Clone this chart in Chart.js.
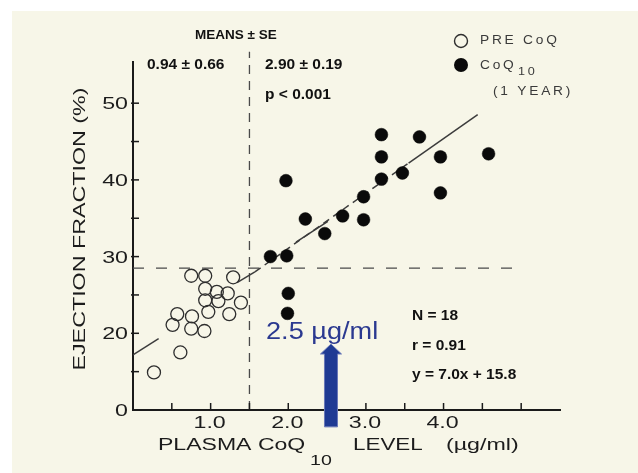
<!DOCTYPE html>
<html><head><meta charset="utf-8">
<script src="https://cdn.jsdelivr.net/npm/chart.js@4/dist/chart.umd.min.js"></script>
<style>html,body{margin:0;padding:0;background:#fff;}canvas{display:block}</style>
</head><body>
<canvas id="c" width="638" height="473" style="width:638px;height:473px"></canvas>
<script>
// ---- data ----
const preX = [0.75, 0.93, 1.29, 0.93, 1.08, 1.22, 0.93, 1.10, 1.39, 0.97, 0.57, 0.76, 1.24, 0.51, 0.75, 0.92, 0.61, 0.27];
const preY = [27.5, 27.5, 27.3, 25.8, 25.4, 25.2, 24.3, 24.2, 24.0, 22.8, 22.5, 22.2, 22.5, 21.1, 20.6, 20.3, 17.5, 14.9];
const coqX = [1.97, 2.22, 2.70, 2.97, 2.97, 2.47, 1.77, 1.98, 2.00, 1.99, 3.20, 3.20, 3.20, 3.47, 3.69, 3.96, 3.96, 4.58];
const coqY = [39.9, 34.9, 35.3, 37.8, 34.8, 33.0, 30.0, 30.1, 25.2, 22.6, 45.9, 43.0, 40.1, 40.9, 45.6, 43.0, 38.3, 43.4];
// regression line pieces [x1, y1, x2, y2]
const fitSolidSegments = [[0, 17.2, 0.33, 19.3], [1.34, 26.6, 1.57, 28.0], [2.10, 31.9, 2.51, 34.6], [3.55, 42.2, 4.44, 48.5]];
const fitDashedSegments = [[1.57, 28.0, 3.55, 42.2]];
// dashed reference lines
const refHLine = [[0, 28.5], [5.0, 28.5]];
const refVLine = [[1.5, 10], [1.5, 56.7]];
// axes
const xTickValues = [1, 2, 3, 4];
const xTickLabels = ['1.0', '2.0', '3.0', '4.0'];
const yTickValues = [10, 20, 30, 40, 50];
const yTickLabels = ['0', '20', '30', '40', '50'];
const xRange = [0, 5.5];
const yRange = [10, 55.37];
// arrow annotation
const arrowX = 2.55;
const arrowYRange = [7.8, 17.3, 18.6]; // bottom, head base, tip

const toPts = (xs, ys) => xs.map((x, i) => ({x: x, y: ys[i]}));
const segDs = (seg, dash) => ({
  data: [{x: seg[0], y: seg[1]}, {x: seg[2], y: seg[3]}],
  showLine: true, borderColor: '#3c3c3c', borderWidth: 1.5, pointRadius: 0,
  borderDash: dash || [], fill: false
});

const LIB = '"Liberation Sans", Arial, sans-serif';

const datasets = [
  {label: 'PRE CoQ', data: toPts(preX, preY), pointRadius: 6.5, borderWidth: 1.3,
   borderColor: '#2e2e2e', backgroundColor: 'rgba(0,0,0,0)', pointHoverRadius: 6.5},
  {label: 'CoQ10 (1 YEAR)', data: toPts(coqX, coqY), pointRadius: 6.4, borderWidth: 0.5,
   borderColor: '#0a0a0a', backgroundColor: '#0a0a0a', pointHoverRadius: 6.4},
];
fitSolidSegments.forEach(s => datasets.push(segDs(s)));
fitDashedSegments.forEach(s => datasets.push(segDs(s, [7, 5])));
datasets.push({data: refHLine.map(p => ({x: p[0], y: p[1]})), showLine: true, borderColor: '#4a4a4a',
  borderWidth: 1.3, pointRadius: 0, borderDash: [11, 12]});
datasets.push({data: refVLine.map(p => ({x: p[0], y: p[1]})), showLine: true, borderColor: '#4a4a4a',
  borderWidth: 1.3, pointRadius: 0, borderDash: [9, 7], clip: false});

// text helper: optional horizontal stretch (extended typeface look) and letter spacing
function stxt(ctx, s, x, y, font, color, sx, align, spacing, baseline) {
  ctx.save();
  ctx.translate(x, y);
  ctx.scale(sx || 1, 1);
  ctx.font = font;
  ctx.letterSpacing = (spacing || 0) + 'px';
  ctx.textAlign = align || 'left';
  ctx.textBaseline = baseline || 'middle';
  ctx.fillStyle = color;
  ctx.fillText(s, 0, 0);
  ctx.restore();
}

const bgPlugin = {
  id: 'bg',
  beforeDraw(chart) {
    const c = chart.ctx;
    c.save();
    c.fillStyle = '#ffffff';
    c.fillRect(0, 0, chart.width, chart.height);
    c.fillStyle = '#f7f6e8';
    c.fillRect(12, 11, chart.width - 12, chart.height - 11);
    c.restore();
  }
};

const decoPlugin = {
  id: 'deco',
  afterDraw(chart) {
    const c = chart.ctx;
    const xs = chart.scales.x, ys = chart.scales.y;
    const axisCol = '#1c1c1c';
    // inward tick marks
    c.save();
    c.strokeStyle = '#1a1a1a';
    c.lineWidth = 1.5;
    xs.ticks.forEach(t => {
      if (t.value <= xRange[0] + 1e-6 || t.value >= xRange[1] - 1e-6) return;
      const px = xs.getPixelForValue(t.value);
      c.beginPath(); c.moveTo(px, ys.bottom + 1); c.lineTo(px, ys.bottom - 7); c.stroke();
    });
    ys.ticks.forEach(t => {
      if (t.value <= yRange[0] + 1e-6 || t.value >= 55 - 1e-6) return;
      const py = ys.getPixelForValue(t.value);
      c.beginPath(); c.moveTo(xs.left - 2, py); c.lineTo(xs.left + 6, py); c.stroke();
    });
    c.restore();

    // tick labels (extended typeface look)
    const tkf = '16px ' + LIB;
    xTickValues.forEach((v, i) => {
      stxt(c, xTickLabels[i], xs.getPixelForValue(v) - 1, 424, tkf, axisCol, 1.45, 'center');
    });
    yTickValues.forEach((v, i) => {
      stxt(c, yTickLabels[i], 128, ys.getPixelForValue(v) + 1.5, tkf, axisCol, 1.45, 'right');
    });

    // axis titles
    const tf = '16px ' + LIB;
    stxt(c, 'PLASMA CoQ', 158, 446, tf, axisCol, 1.44);
    stxt(c, '10', 310, 461, '14px ' + LIB, axisCol, 1.4);
    stxt(c, 'LEVEL', 353, 446, tf, axisCol, 1.4);
    stxt(c, '(\u00b5g/ml)', 446, 446, tf, axisCol, 1.45);
    c.save();
    c.translate(80, 229);
    c.rotate(-Math.PI / 2);
    stxt(c, 'EJECTION FRACTION (%)', 0, 0, '16.5px ' + LIB, axisCol, 1.41, 'center');
    c.restore();

    // statistics annotations
    const bf = 'bold 15.5px ' + LIB;
    stxt(c, 'MEANS \u00b1 SE', 195, 35, 'bold 13.5px ' + LIB, '#111', 1);
    stxt(c, '0.94 \u00b1 0.66', 147, 65, bf, '#111', 1);
    stxt(c, '2.90 \u00b1 0.19', 265, 65, bf, '#111', 1);
    stxt(c, 'p < 0.001', 265, 95, bf, '#111', 1);
    stxt(c, 'N = 18', 412, 316, bf, '#111', 1);
    stxt(c, 'r = 0.91', 412, 346, bf, '#111', 1);
    stxt(c, 'y = 7.0x + 15.8', 412, 375, bf, '#111', 1);

    // legend
    c.save();
    c.strokeStyle = '#2e2e2e'; c.lineWidth = 1.4;
    c.beginPath(); c.arc(461, 41, 6.5, 0, Math.PI * 2); c.stroke();
    c.fillStyle = '#0a0a0a';
    c.beginPath(); c.arc(461, 65, 7, 0, Math.PI * 2); c.fill();
    c.restore();
    const lf = '12.5px ' + LIB;
    const lc = '#3a3a3a';
    stxt(c, 'PRE CoQ', 480, 41, lf, lc, 1.1, 'left', 2.5);
    stxt(c, 'CoQ', 480, 66, lf, lc, 1.1, 'left', 2.5);
    stxt(c, '10', 518, 72, '11.5px ' + LIB, lc, 1.1, 'left', 2.5);
    stxt(c, '(1 YEAR)', 493, 92, lf, lc, 1.1, 'left', 2.5);

    // arrow
    const ax = xs.getPixelForValue(arrowX);
    const yb = ys.getPixelForValue(arrowYRange[0]);
    const yh = ys.getPixelForValue(arrowYRange[1]);
    const yt = ys.getPixelForValue(arrowYRange[2]);
    c.save();
    c.beginPath();
    c.moveTo(ax - 6.5, yb); c.lineTo(ax - 6.5, yh); c.lineTo(ax - 10.5, yh);
    c.lineTo(ax, yt); c.lineTo(ax + 10.5, yh); c.lineTo(ax + 6.5, yh); c.lineTo(ax + 6.5, yb);
    c.closePath();
    c.fillStyle = '#1f3a93'; c.fill();
    c.strokeStyle = '#6878b8'; c.lineWidth = 1; c.stroke();
    c.restore();
    stxt(c, '2.5 \u00b5g/ml', 266, 339, '23px ' + LIB, '#2b3990', 1.18, 'left', 0, 'alphabetic');
  }
};

new Chart(document.getElementById('c'), {
  type: 'scatter',
  data: {datasets: datasets},
  options: {
    responsive: false, animation: false, devicePixelRatio: 1,
    layout: {padding: {top: 62, right: 78, left: 0, bottom: 0}},
    plugins: {legend: {display: false}, tooltip: {enabled: false}},
    events: [],
    scales: {
      x: {
        type: 'linear', position: 'bottom', min: xRange[0], max: xRange[1],
        afterFit: s => { s.height = 63; },
        grid: {display: false, drawTicks: false},
        border: {display: true, color: '#1a1a1a', width: 2},
        ticks: {stepSize: 0.5, autoSkip: false, includeBounds: false, display: false}
      },
      y: {
        type: 'linear', position: 'left', min: yRange[0], max: yRange[1],
        afterFit: s => { s.width = 133; },
        grid: {display: false, drawTicks: false},
        border: {display: true, color: '#1a1a1a', width: 2},
        ticks: {stepSize: 5, autoSkip: false, includeBounds: false, display: false}
      }
    }
  },
  plugins: [bgPlugin, decoPlugin]
});
</script>
</body></html>
